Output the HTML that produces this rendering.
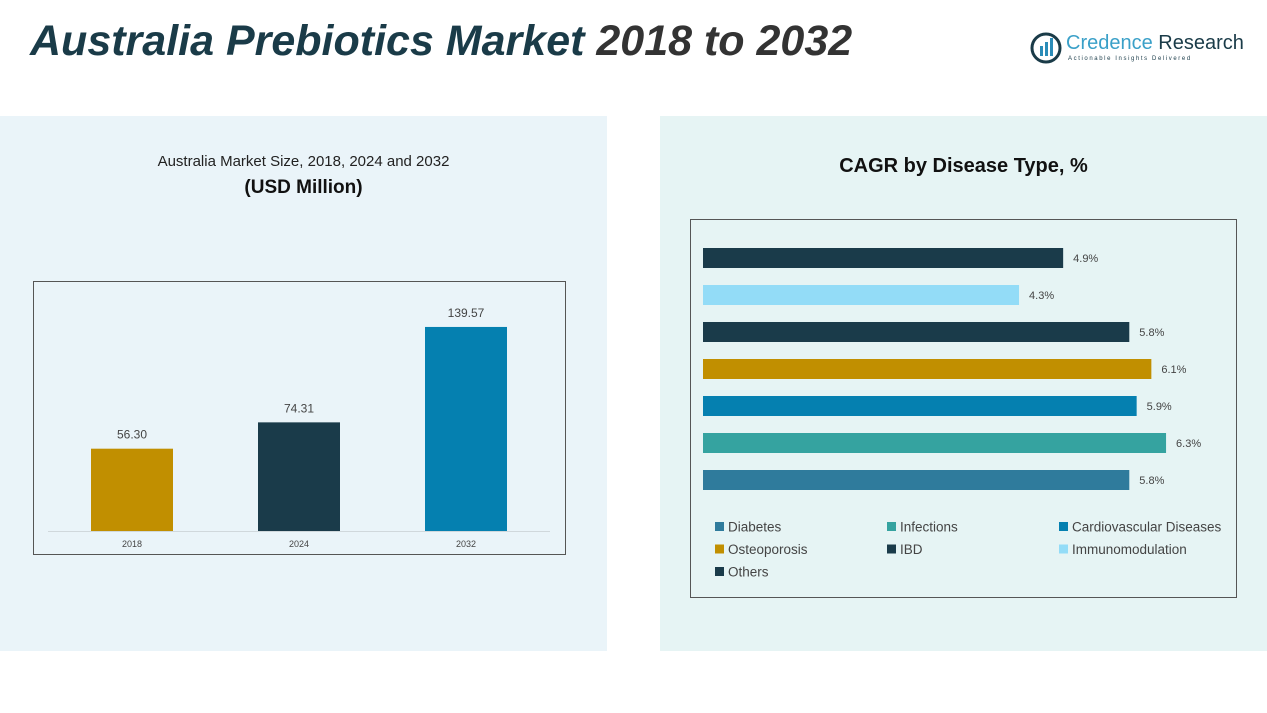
<!DOCTYPE html>
<html><head><meta charset="utf-8"><style>
body{margin:0;width:1267px;height:713px;background:#fff;position:relative;overflow:hidden;font-family:"Liberation Sans",sans-serif}
.abs{position:absolute}
</style></head><body>
<div class="abs" style="left:30px;top:17px;font-size:43px;font-weight:bold;font-style:italic;color:#1a3b48;white-space:nowrap;letter-spacing:0px">Australia Prebiotics Market <span style="color:#333">2018 to 2032</span></div>
<div class="abs" style="left:1030px;top:32px;width:210px;height:34px">
<svg width="32" height="32" style="position:absolute;left:0;top:0"><circle cx="16" cy="16" r="14" fill="none" stroke="#1a3b48" stroke-width="3"/><rect x="10" y="14" width="3" height="10" fill="#2b8cb8"/><rect x="15" y="10" width="3" height="14" fill="#2b8cb8"/><rect x="20" y="6" width="3" height="18" fill="#2b8cb8"/></svg>
<div class="abs" style="left:36px;top:0;font-size:20px;color:#3aa0c8;white-space:nowrap">Credence <span style="color:#1a3b48">Research</span></div>
<div class="abs" style="left:38px;top:24px;font-size:6px;letter-spacing:1.6px;color:#1a3b48;white-space:nowrap">Actionable Insights Delivered</div>
</div>
<div class="abs" style="left:0;top:116px;width:607px;height:535px;background:#eaf4f9"></div>
<div class="abs" style="left:660px;top:116px;width:607px;height:535px;background:#e6f4f4"></div>
<div class="abs" style="left:0;width:607px;top:153px;text-align:center;font-size:15px;color:#222">Australia Market Size, 2018, 2024 and 2032</div>
<div class="abs" style="left:0;width:607px;top:177px;text-align:center;font-size:19px;font-weight:bold;color:#111">(USD Million)</div>
<div class="abs" style="left:660px;width:607px;top:155px;text-align:center;font-size:20px;font-weight:bold;color:#111">CAGR by Disease Type, %</div>
<svg id="c" class="abs" style="left:0;top:0" width="1267" height="713"></svg>
<script>
const years=["2018","2024","2032"];
const sizes=[56.30,74.31,139.57];
const sizeLabels=["56.30","74.31","139.57"];
const segs=["Others","Immunomodulation","IBD","Osteoporosis","Cardiovascular Diseases","Infections","Diabetes"];
const cagr=[4.9,4.3,5.8,6.1,5.9,6.3,5.8];
const cagrLabels=["4.9%","4.3%","5.8%","6.1%","5.9%","6.3%","5.8%"];
const NS="http://www.w3.org/2000/svg",svg=document.getElementById('c');
function mk(t,a,txt){const e=document.createElementNS(NS,t);for(const k in a)e.setAttribute(k,a[k]);if(txt!=null)e.textContent=txt;svg.appendChild(e);return e;}
const barCol=["#c18f00","#1a3b4a","#0580b0"];
const segCol={"Others":"#1a3b4a","Immunomodulation":"#93dcf7","IBD":"#1a3b4a","Osteoporosis":"#c18f00","Cardiovascular Diseases":"#0580b0","Infections":"#35a3a0","Diabetes":"#2f7b9c"};
let e=mk('rect',{x:33.5,y:281.5,width:532,height:273,fill:'none',stroke:'#555'});

mk('line',{x1:48,x2:550,y1:531.5,y2:531.5,stroke:'#d0d8dc'});
const base=531,ys=v=>v*1.462,xc=i=>132+i*167;
years.forEach((y,i)=>{
 const h=ys(sizes[i]);
 let r=mk('rect',{x:xc(i)-41,y:base-h,width:82,height:h,fill:barCol[i]});
 
 let t=mk('text',{x:xc(i),y:base-h-10,'text-anchor':'middle','font-size':12,fill:'#444'},sizeLabels[i]);
 
 let l=mk('text',{x:xc(i),y:547,'text-anchor':'middle','font-size':9,fill:'#444'},y);
 
});
e=mk('rect',{x:690.5,y:219.5,width:546,height:378,fill:'none',stroke:'#555'});

const x0=703,xs=v=>v*73.5,yr=i=>258+i*37;
segs.forEach((s,i)=>{
 const w=xs(cagr[i]);
 let r=mk('rect',{x:x0,y:yr(i)-10,width:w,height:20,fill:segCol[s]});
 
 let t=mk('text',{x:x0+w+10,y:yr(i)+4,'font-size':11,fill:'#444'},cagrLabels[i]);
 
});
const leg=["Diabetes","Infections","Cardiovascular Diseases","Osteoporosis","IBD","Immunomodulation","Others"];
leg.forEach((s,i)=>{
 const cx=715+(i%3)*172,cy=527+Math.floor(i/3)*22.5;
 let r=mk('rect',{x:cx,y:cy-5,width:9,height:9,fill:segCol[s]});
 
 let t=mk('text',{x:cx+13,y:cy+4.5,'font-size':13.5,fill:'#444'},s);
 
});
</script>
</body></html>
